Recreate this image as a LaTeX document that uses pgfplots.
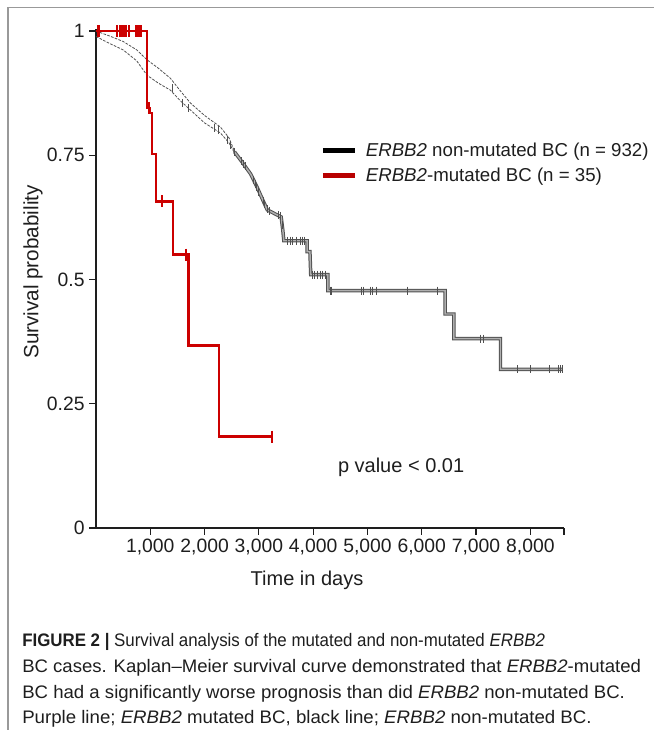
\documentclass[border=0pt]{standalone}
\usepackage{fontspec}
\setmainfont{Liberation Sans}
\usepackage{graphicx}
\usepackage{pgfplots}
\pgfplotsset{compat=1.18}
\definecolor{kmred}{RGB}{204,0,0}
\definecolor{txt}{RGB}{30,30,30}
\definecolor{kmdark}{RGB}{80,80,80}
\definecolor{kmlight}{RGB}{175,175,175}
\begin{document}
\begin{tikzpicture}
\begin{scope}[x=0.75pt,y=-0.75pt]
\useasboundingbox (0,0) rectangle (654,730);
\draw[gray!80, line width=1pt] (8,730) -- (8,7.5) -- (654,7.5);
\node[rotate=90, font=\fontsize{15.5}{18}\selectfont, text=txt] at (33,272) {Survival probability};
\node[font=\fontsize{15}{18}\selectfont, text=txt] at (307,580) {Time in days};
\begin{scope}[every node/.style={anchor=base west, inner sep=0pt, font=\fontsize{13.6}{15}\selectfont, text=txt}]
\node at (22,646) {\resizebox{392pt}{\height}{\textbf{FIGURE 2 |} Survival analysis of the mutated and non-mutated \textit{ERBB2}}};
\node at (22,672) {\resizebox{464pt}{\height}{BC cases. Kaplan–Meier survival curve demonstrated that \textit{ERBB2}-mutated}};
\node at (22,698) {\resizebox{452pt}{\height}{BC had a significantly worse prognosis than did \textit{ERBB2} non-mutated BC.}};
\node at (22,723) {\resizebox{427pt}{\height}{Purple line; \textit{ERBB2} mutated BC, black line; \textit{ERBB2} non-mutated BC.}};
\end{scope}
\end{scope}
\begin{axis}[
  at={(72pt,-396pt)}, anchor=south west, scale only axis,
  width=351pt, height=374.6pt,
  xmin=0, xmax=8620, ymin=0, ymax=1.005,
  axis lines*=left, axis line style={line width=1pt, txt},
  tick align=outside, tick pos=left, major tick length=5pt,
  tick style={line width=0.9pt, txt},
  xtick={1000,2000,3000,4000,5000,6000,7000,8000},
  xticklabels={{1,000},{2,000},{3,000},{4,000},{5,000},{6,000},{7,000},{8,000}},
  extra x ticks={8620}, extra x tick labels={},
  ytick={0,0.25,0.5,0.75,1}, yticklabels={0,0.25,0.5,0.75,1},
  /pgf/number format/assume math mode=true,
  ticklabel style={font=\fontsize{14.5}{16}\selectfont, text=txt},
  clip=false,
  legend style={at={(rel axis cs:0.479,0.731)}, anchor=west, draw=none, fill=none,
    inner sep=0pt, font=\fontsize{14}{16}\selectfont, text=txt, cells={anchor=west},
    row sep=3pt},
  legend image code/.code={\draw[#1, line width=3.7pt] (0pt,0pt) -- (24pt,0pt); \path (30pt,0pt);},
]
% non-mutated: early double trace
\addplot[forget plot, kmdark, line width=0.6pt, dash pattern=on 2pt off 1pt] coordinates {
(0,1.0)(250,0.99)(500,0.979)(750,0.962)(940,0.942)(1150,0.925)(1370,0.905)(1550,0.88)(1740,0.855)(2000,0.83)(2290,0.807)(2450,0.785)(2550,0.758)};
\addplot[forget plot, kmdark, line width=0.6pt, dash pattern=on 2pt off 1pt] coordinates {
(0,0.989)(250,0.975)(500,0.962)(750,0.94)(940,0.911)(1150,0.895)(1370,0.881)(1550,0.86)(1740,0.841)(2000,0.815)(2290,0.795)(2450,0.775)(2550,0.755)};
% non-mutated: main trace
\addplot[forget plot, kmdark, line width=2.6pt] coordinates {
(2550,0.757)(2700,0.735)(2850,0.712)(2970,0.685)(3080,0.658)(3155,0.64)(3300,0.632)(3410,0.626)(3440,0.6)(3460,0.578)(3890,0.578)(3890,0.556)(3940,0.556)(3955,0.51)(4270,0.51)(4270,0.4775)(6430,0.4775)(6430,0.4306)(6590,0.4306)(6590,0.381)(7450,0.381)(7450,0.319)(8590,0.319)};
\addplot[forget plot, kmlight, line width=1.1pt] coordinates {
(2550,0.757)(2700,0.735)(2850,0.712)(2970,0.685)(3080,0.658)(3155,0.64)(3300,0.632)(3410,0.626)(3440,0.6)(3460,0.578)(3890,0.578)(3890,0.556)(3940,0.556)(3955,0.51)(4270,0.51)(4270,0.4775)(6430,0.4775)(6430,0.4306)(6590,0.4306)(6590,0.381)(7450,0.381)(7450,0.319)(8590,0.319)};
% non-mutated censor marks
\addplot[forget plot, only marks, mark=|, mark size=3pt, kmdark, mark options={line width=0.7pt}] coordinates {
(1400,0.885)(1600,0.855)(1700,0.845)(2180,0.805)(2250,0.8)(2420,0.78)(2480,0.77)(2550,0.757)
(2680,0.738)(2720,0.732)(2750,0.728)(2900,0.70)(2930,0.692)(2960,0.686)(3000,0.676)(3080,0.658)(3110,0.652)(3150,0.642)(3200,0.638)(3360,0.63)(3400,0.627)(3440,0.61)
(3530,0.578)(3580,0.578)(3620,0.578)(3700,0.578)(3760,0.578)(3800,0.578)(3840,0.578)
(3980,0.51)(4030,0.51)(4080,0.51)(4130,0.51)(4180,0.51)(4230,0.51)
(4312,0.4775)(4338,0.4775)(4890,0.4775)(4927,0.4775)(5050,0.4775)(5087,0.4775)(5174,0.4775)(5730,0.4775)(6280,0.4775)
(7080,0.381)(7130,0.381)
(7765,0.319)(8000,0.319)(8360,0.319)(8527,0.319)(8563,0.319)(8595,0.319)};
% mutated
\addplot[forget plot, kmred, line width=1.8pt] coordinates {
(0,1)(937,1)(937,0.845)(1000,0.845)(1000,0.835)(1027,0.835)(1027,0.752)(1110,0.752)(1110,0.657)(1420,0.657)(1420,0.55)(1707,0.55)(1707,0.367)(2260,0.367)(2260,0.184)(3245,0.184)};
\addplot[forget plot, only marks, mark=|, mark size=4.5pt, kmred, mark options={line width=1.6pt}] coordinates {
(30,1)(60,1)(390,1)(440,1)(480,1)(520,1)(560,1)(610,1)(730,1)(780,1)(820,1)
(980,0.845)(1210,0.657)(1660,0.55)(3245,0.184)};
\addlegendimage{black}
\addlegendimage{kmred!90!black}
\legend{\textit{ERBB2} non-mutated BC (n = 932), \textit{ERBB2}-mutated BC (n = 35)}
\node[font=\fontsize{15}{17}\selectfont, text=txt] at (axis cs:5620,0.123) {p value < 0.01};
\end{axis}
\end{tikzpicture}
\end{document}
